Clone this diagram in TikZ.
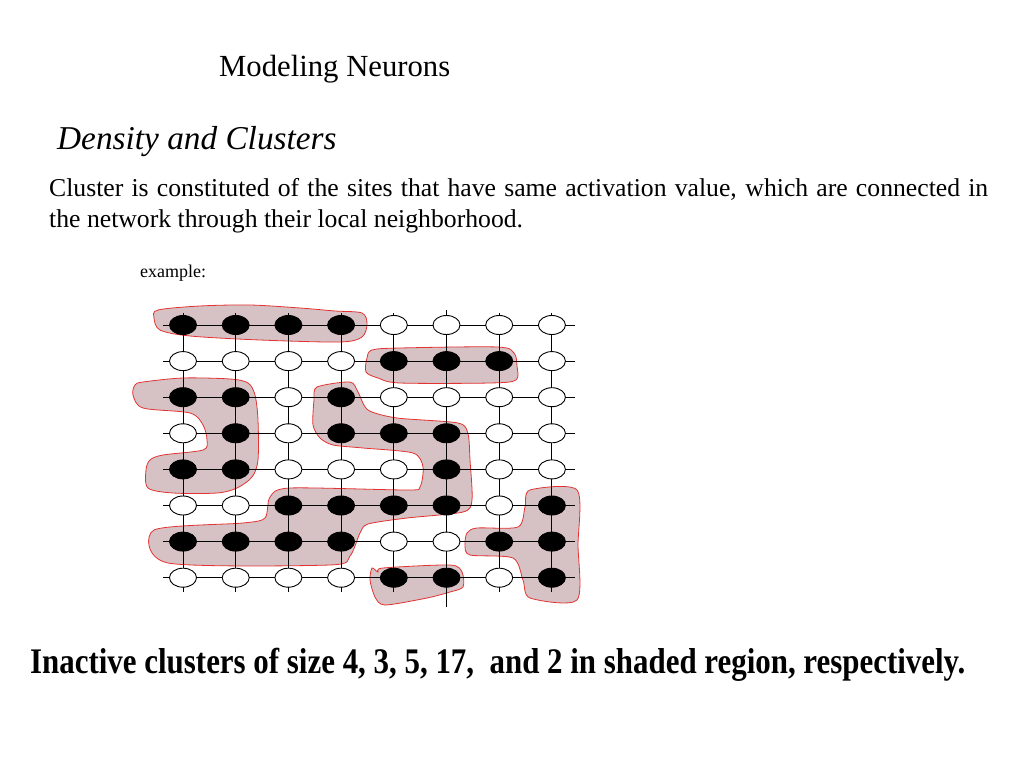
\documentclass[tikz,border=0pt]{standalone}
\usepackage{fontspec}
\setmainfont{Liberation Serif}
\usepackage{graphicx}
\usepackage{tikz}
\usetikzlibrary{shapes.geometric}
\definecolor{shade}{RGB}{214,194,196}
\definecolor{rim}{RGB}{228,50,50}
\tikzset{
site/.style = {ellipse, draw=black, line width=0.9pt, minimum width=#1,
               minimum height=19pt, inner sep=0pt, outer sep=0pt},
site/.default = 27pt, % width of the site
act/.style  = {site, fill=black},
idle/.style = {site, fill=white}
}
\tikzset{
grid/.style = {draw=black, line width=0.9pt},
region/.style = {fill=shade, draw=rim, line width=0.8pt}
}

\begin{document}
\begin{tikzpicture}[x=1pt, y=-1pt]
    \useasboundingbox (0,0) rectangle (1023,767);
    % texts
    \node[anchor=base west, inner sep=0pt] (title) at (219,77)
        {\fontsize{30.7}{36}\selectfont Modeling Neurons};
    \node[anchor=base west, inner sep=0pt] (head) at (57,150)
        {\fontsize{33.3}{40}\selectfont\itshape Density and Clusters};
    \node[anchor=base west, inner sep=0pt] (para) at (49,197)
        {\parbox[t]{939pt}{\fontsize{25.7}{31}\selectfont
         Cluster is constituted of the sites that have same activation value, which are connected in\linebreak
         the network through their local neighborhood.}};
    \node[anchor=base west, inner sep=0pt] (ex) at (140,278)
        {\fontsize{18}{22}\selectfont example:};
    \node[anchor=base west, inner sep=0pt] (note) at (30,673)
        {\resizebox{935pt}{\height}{\fontsize{36}{42}\selectfont\bfseries
         Inactive clusters of size 4, 3, 5, 17,~ and 2 in shaded region, respectively.}};

    % shaded regions
    \draw[region] plot[smooth cycle, tension=0.5] coordinates {(158,310) (200,306) (250,305) (300,308) (335,311) (362,313) (367,324) (362,337) (340,342) (260,340) (190,336) (160,330) (154,318)};
    \draw[region] plot[smooth cycle, tension=0.5] coordinates {(372,350) (400,348) (497,347) (514,353) (517,366) (516,380) (490,383) (400,383) (378,378) (366,372) (367,358)};
    \draw[region] plot[smooth cycle, tension=0.5] coordinates {(143,382) (183,378) (230,379) (248,383) (255,395) (258,420) (258,460) (252,477) (237,488) (217,493) (173,493) (148,488) (146,470) (150,460) (163,455) (203,450) (207,440) (203,425) (190,413) (143,408) (133,395) (135,385)};
    \draw[region] plot[smooth cycle, tension=0.45] coordinates {(317,387) (350,382) (358,392) (368,410) (397,418) (458,423) (468,434) (470,460) (472,500) (463,512) (407,518) (368,524) (360,533) (350,556) (330,565) (168,563) (154,530) (243,523) (265,518) (270,497) (290,488) (407,490) (420,487) (423,467) (413,453) (363,448) (333,445) (320,438) (313,425) (314,400)};
    \draw[region] plot[smooth cycle, tension=0.45] coordinates {(530,490) (577,490) (578,545) (577,600) (530,598) (523,580) (513,558) (470,555) (465,545) (467,533) (477,528) (518,527) (525,507)};
    \draw[region] plot[smooth cycle, tension=0.45] coordinates {(372,568) (378,572) (383,568) (450,565) (462,572) (463,587) (450,592) (427,598) (385,605) (375,597) (370,580)};

    % sites
    \foreach \r/\row in {1/{act,act,act,act,idle,idle,idle,idle},
                         2/{idle,idle,idle,idle,act,act,act,idle},
                         3/{act,act,idle,act,idle,idle,idle,idle},
                         4/{idle,act,idle,act,act,act,idle,idle},
                         5/{act,act,idle,idle,idle,act,idle,idle},
                         6/{idle,idle,act,act,act,act,idle,act},
                         7/{act,act,act,act,idle,idle,act,act},
                         8/{idle,idle,idle,idle,act,act,idle,act}}
        \foreach \s [count=\c] in \row
            \node[\s] (v\r-\c) at ({183+52.7*(\c-1)},{325+36.1*(\r-1)}) {};

    % ends of the grid lines
    \foreach \r in {1,...,8} {
        \coordinate (w\r) at (163,{325+36.1*(\r-1)});
        \coordinate (e\r) at (575,{325+36.1*(\r-1)});
    }
    \foreach \c in {1,...,8} {
        \coordinate (n\c) at ({183+52.7*(\c-1)},313);
        \coordinate (s\c) at ({183+52.7*(\c-1)},592);
    }
    \coordinate (n6) at ({183+52.7*5},310);
    \coordinate (s6) at ({183+52.7*5},607);

    % grid lines
    \foreach \r in {1,...,8} {
        \draw[grid] (w\r) -- (v\r-1);
        \draw[grid] (v\r-8) -- (e\r);
        \draw[grid] (n\r) -- (v1-\r);
        \draw[grid] (v8-\r) -- (s\r);
        \foreach \c in {1,...,7} {
            \pgfmathtruncatemacro\d{\c+1}
            \draw[grid] (v\r-\c) -- (v\r-\d);
            \draw[grid] (v\c-\r) -- (v\d-\r);
        }
    }
\end{tikzpicture}
\end{document}
